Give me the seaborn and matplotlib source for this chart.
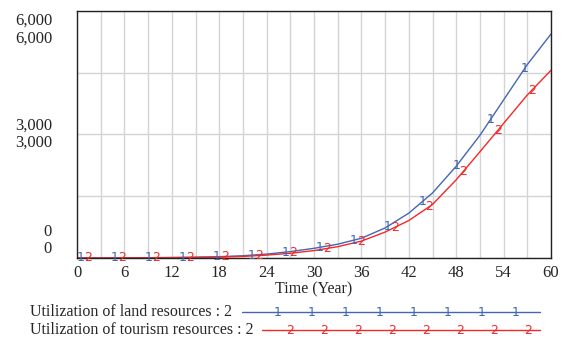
import numpy as np
import pandas as pd
import matplotlib
matplotlib.use("Agg")
import matplotlib.pyplot as plt
import seaborn as sns
from matplotlib.lines import Line2D

years = [0, 3, 6, 9, 12, 15, 18, 21, 24, 27, 30, 33, 36, 39, 42, 45, 48, 51, 54, 57, 60]
land = [0, 2, 4, 7, 12, 20, 32, 55, 95, 155, 235, 335, 480, 730, 1090, 1580, 2230, 2980, 3840, 4700, 5440]
tourism = [0, 1, 3, 5, 9, 14, 22, 38, 70, 115, 180, 275, 410, 630, 910, 1300, 1900, 2580, 3270, 3960, 4560]
x_ticks = [0, 6, 12, 18, 24, 30, 36, 42, 48, 54, 60]
y_labels = ["6,000", "3,000", "0"]
land_name = "Utilization of land resources : 2"
tourism_name = "Utilization of tourism resources : 2"

blue = "#4466b4"
red = "#f42828"

sns.set_style("white")
plt.rcParams["font.family"] = ["Liberation Serif", "DejaVu Serif"]

df = pd.DataFrame({"year": years, "land": land, "tourism": tourism})

fig = plt.figure(figsize=(5.68, 3.38), dpi=100)
ax = fig.add_axes([0.1356, 0.2367, 0.8345, 0.7308])

sns.lineplot(data=df, x="year", y="land", color=blue, lw=1, ax=ax)
sns.lineplot(data=df, x="year", y="tourism", color=red, lw=1, ax=ax)

# numbered curve labels like Vensim
for t in np.arange(0.4, 60, 4.33):
    ax.text(t, np.interp(t, years, land), "1", color=blue, fontsize=9,
            ha="center", va="center", family="DejaVu Sans")
for t in np.arange(1.4, 60, 4.32):
    ax.text(t, np.interp(t, years, tourism), "2", color=red, fontsize=9,
            ha="center", va="center", family="DejaVu Sans")

ax.set_xlim(0, 60)
ax.set_ylim(0, 6000)
ax.set_xticks(np.arange(0, 61, 3))
ax.set_xticklabels([str(v) if v in x_ticks else "" for v in range(0, 61, 3)], fontsize=12)
ax.set_yticks([0, 1500, 3000, 4500, 6000])
ax.set_yticklabels([])
ax.tick_params(length=0, pad=5)
ax.grid(True, color="#d4d4d4", lw=1)
for s in ax.spines.values():
    s.set_color("#222222")
    s.set_linewidth(1)
ax.set_xlabel("Time (Year)", fontsize=11.5, labelpad=0)
ax.set_ylabel("")

# doubled y labels, one per variable
for lab, (y1, y2) in zip(y_labels, [(21, 39), (126, 143), (232, 249)]):
    for yy in (y1, y2):
        fig.text(52 / 568, 1 - yy / 338, lab, ha="right", va="center", fontsize=12)

# legend
rows = [(land_name, blue, "1", 312, 242, 278), (tourism_name, red, "2", 330, 262, 290)]
for name, c, mk, yy, x0, m0 in rows:
    yf = 1 - yy / 338
    fig.text(30 / 568, yf, name, ha="left", va="center", fontsize=11.5)
    fig.add_artist(Line2D([x0 / 568, 540 / 568], [yf, yf], color=c, lw=1))
    for i in range(8):
        fig.text((m0 + i * 34) / 568, yf, mk, ha="center", va="center",
                 fontsize=9, color=c, family="DejaVu Sans")

fig.savefig("out.png", dpi=100)
